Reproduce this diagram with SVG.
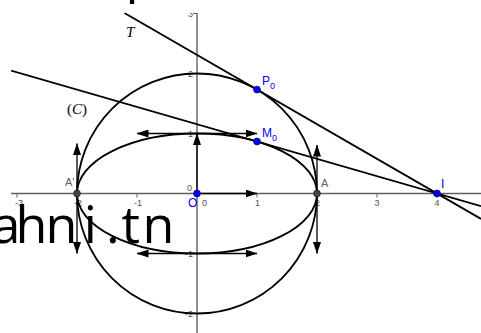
<svg xmlns="http://www.w3.org/2000/svg" width="481" height="333" viewBox="0 0 481 333">
<defs>
<clipPath id="view"><rect x="11" y="13" width="470" height="320"/></clipPath>
<marker id="ah" viewBox="0 0 12 8" refX="11.5" refY="4" markerWidth="12" markerHeight="8" markerUnits="userSpaceOnUse" orient="auto"><path d="M0,0 L12,4 L0,8 Z" fill="#000"/></marker>
</defs>
<style>
.ax{stroke:#606060;stroke-width:1.4;fill:none}
.tk{stroke:#606060;stroke-width:1;fill:none}
.nl{font-family:"Liberation Sans",Arial,sans-serif;font-size:9px;fill:#505050}
.cv{stroke:#000;stroke-width:1.8;fill:none}
.vec{stroke:#000;stroke-width:1.3;fill:none;marker-end:url(#ah)}
.bp{fill:#0000ff;stroke:#00007f;stroke-width:0.8}
.gp{fill:#444;stroke:#222;stroke-width:0.8}
.bl{font-family:"Liberation Sans",Arial,sans-serif;font-size:12px;fill:#0000ff}
.gl{font-family:"Liberation Sans",Arial,sans-serif;font-size:11px;fill:#606060}
.ml{font-family:"Liberation Serif","Times New Roman",serif;font-size:15px;fill:#000}
.wm{font-family:"Open Sans","Noto Sans",sans-serif;font-size:52px;fill:#000}
</style>
<rect x="0" y="0" width="481" height="333" fill="#fff"/>
<g clip-path="url(#view)">
<g id="axes">
<line class="ax" x1="11" y1="193.5" x2="481" y2="193.5"/>
<line class="ax" x1="197" y1="13" x2="197" y2="333"/>
<path class="tk" d="M17,193.5v4M77,193.5v4M137,193.5v4M257,193.5v4M317,193.5v4M377,193.5v4M437,193.5v4M193,13.5h4M193,73.5h4M193,133.5h4M193,253.5h4M193,313.5h4"/>
<text class="nl" x="19" y="206" text-anchor="middle">-3</text>
<text class="nl" x="78" y="206" text-anchor="middle">-2</text>
<text class="nl" x="138" y="206" text-anchor="middle">-1</text>
<text class="nl" x="202" y="206">0</text>
<text class="nl" x="257.5" y="206" text-anchor="middle">1</text>
<text class="nl" x="317.5" y="206" text-anchor="middle">2</text>
<text class="nl" x="377" y="206" text-anchor="middle">3</text>
<text class="nl" x="437" y="206" text-anchor="middle">4</text>
<text class="nl" x="193" y="17" text-anchor="end">3</text>
<text class="nl" x="193" y="77" text-anchor="end">2</text>
<text class="nl" x="193" y="137" text-anchor="end">1</text>
<text class="nl" x="192" y="191" text-anchor="end">0</text>
<text class="nl" x="193" y="257" text-anchor="end">-1</text>
<text class="nl" x="193" y="317" text-anchor="end">-2</text>
</g>
<g id="curves">
<circle id="C" class="cv" cx="197" cy="193.5" r="120"/>
<ellipse id="ellipse" class="cv" cx="197" cy="193.5" rx="120" ry="60"/>
<line id="T" class="cv" x1="124.4" y1="13" x2="481" y2="218.9"/>
<line id="M0I" class="cv" x1="11" y1="70.5" x2="481" y2="206.2"/>
</g>
<g id="vectors">
<line class="vec" x1="197" y1="193.5" x2="197" y2="133.5"/>
<line class="vec" x1="197" y1="193.5" x2="257" y2="193.5"/>
<line class="vec" x1="197" y1="133.5" x2="137" y2="133.5"/>
<line class="vec" x1="197" y1="133.5" x2="257" y2="133.5"/>
<line class="vec" x1="197" y1="253.5" x2="137" y2="253.5"/>
<line class="vec" x1="197" y1="253.5" x2="257" y2="253.5"/>
<line class="vec" x1="77" y1="193.5" x2="77" y2="143.5"/>
<line class="vec" x1="77" y1="193.5" x2="77" y2="253.5"/>
<line class="vec" x1="317" y1="193.5" x2="317" y2="145"/>
<line class="vec" x1="317" y1="193.5" x2="317" y2="253.5"/>
</g>
<g id="labels">
<text class="ml" x="126" y="37" font-style="italic">T</text>
<text class="ml" x="67" y="114">(<tspan font-style="italic">C</tspan>)</text>
</g>
<g id="P0"><circle class="bp" cx="257" cy="89.6" r="3.4"/><text class="bl" x="262" y="85">P<tspan font-size="9" dy="4">0</tspan></text></g>
<g id="M0"><circle class="bp" cx="257" cy="141.5" r="3.4"/><text class="bl" x="262" y="137">M<tspan font-size="9" dy="4">0</tspan></text></g>
<g id="I"><circle class="bp" cx="437" cy="193.5" r="3.4"/><text class="bl" x="441" y="188">I</text></g>
<g id="O"><circle class="bp" cx="197" cy="193.5" r="3.4"/><text class="bl" x="188" y="207" font-size="10">O</text></g>
<g id="A1"><circle class="gp" cx="77" cy="193.5" r="3.4"/><text class="gl" x="65" y="186">A'</text></g>
<g id="A"><circle class="gp" cx="317" cy="193.5" r="3.4"/><text class="gl" x="321" y="187">A</text></g>
</g>
<text class="wm" x="-8.6 15.6 45.6 83.8 106 121.5 142.6" y="243">ahni.tn</text>
<text class="wm" x="125.5" y="-8.5">p</text>
</svg>
